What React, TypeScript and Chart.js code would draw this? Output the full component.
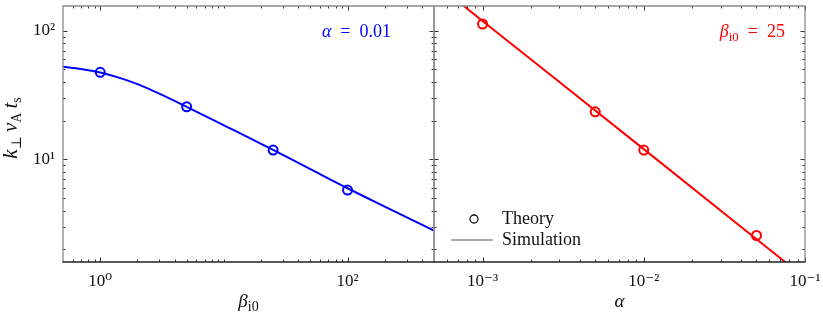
import React, { useEffect, useRef } from "react";
import { Chart, registerables } from "chart.js";
Chart.register(...registerables);

const FONT = '"Liberation Serif", "DejaVu Serif", serif';

// ---- Left panel: alpha = 0.01, versus beta_i0
const betaTheory = [1, 5, 25, 100];
const kTheoryBeta = [47.5, 25.6, 11.8, 5.77];
const betaSim = [0.5, 0.7, 1, 1.5, 2, 3, 5, 10, 25, 50, 100, 200, 500];
const kSimBeta = [52.5, 50.4, 47.3, 42.4, 38.4, 32.4, 25.6, 18.4, 11.85, 8.4, 5.96, 4.29, 2.79];

// ---- Right panel: beta_i0 = 25, versus alpha
const alphaTheory = [0.001, 0.005, 0.01, 0.05];
const kTheoryAlpha = [112.7, 23.4, 11.8, 2.56];
const alphaSim = [0.0004, 0.001, 0.01, 0.1];
const kSimAlpha = [297, 119, 12.0, 1.2];

// ---- Axes ranges and ticks
const yRange = [1.593, 155.5];
const betaRange = [0.5, 500];
const alphaRange = [0.0005, 0.1];
const yMajorTicks = [10, 100];
const yMinorTicks = [2, 3, 4, 5, 6, 7, 8, 9, 20, 30, 40, 50, 60, 70, 80, 90];
const betaMajorTicks = [1, 100];
const betaMinorTicks = [0.6, 0.7, 0.8, 0.9, 2, 3, 4, 5, 6, 7, 8, 9, 10, 20, 30, 40, 50, 60, 70, 80, 90, 200, 300, 400];
const alphaMajorTicks = [0.001, 0.01, 0.1];
const alphaMinorTicks = [0.0006, 0.0007, 0.0008, 0.0009, 0.002, 0.003, 0.004, 0.005, 0.006, 0.007, 0.008, 0.009, 0.02, 0.03, 0.04, 0.05, 0.06, 0.07, 0.08, 0.09];

const SUP: Record<string, string> = { "-": "\u207B", "0": "\u2070", "1": "\u00B9", "2": "\u00B2", "3": "\u00B3" };
const fmtPow = (v: number) => {
  const e = String(Math.round(Math.log10(v)));
  return "10" + e.split("").map((c) => SUP[c] || c).join("");
};

type Part = { t: string; italic?: boolean; sub?: boolean };
function drawRich(
  ctx: CanvasRenderingContext2D,
  parts: Part[],
  x: number,
  y: number,
  align: "left" | "center" | "right",
  color: string,
  main = 18,
  subSize = 13,
  subDy = 4
) {
  const fontOf = (p: Part) => `${p.italic ? "italic " : ""}${p.sub ? subSize : main}px ${FONT}`;
  ctx.save();
  ctx.textBaseline = "alphabetic";
  ctx.textAlign = "left";
  ctx.fillStyle = color;
  let w = 0;
  const widths = parts.map((p) => {
    ctx.font = fontOf(p);
    const m = ctx.measureText(p.t).width;
    w += m;
    return m;
  });
  let cx = align === "left" ? x : align === "center" ? x - w / 2 : x - w;
  parts.forEach((p, i) => {
    ctx.font = fontOf(p);
    ctx.fillText(p.t, cx, p.sub ? y + subDy : y);
    cx += widths[i];
  });
  ctx.restore();
}

type Extra = {
  xMajor: number[];
  xMinor: number[];
  draw: (ctx: CanvasRenderingContext2D, chart: any) => void;
};

function framePlugin(extra: Extra) {
  return {
    id: "frameTicks",
    afterDraw(chart: any) {
      const ctx: CanvasRenderingContext2D = chart.ctx;
      const { left, right, top, bottom } = chart.chartArea;
      const xs = chart.scales.x;
      const ys = chart.scales.y;
      ctx.save();
      ctx.strokeStyle = "#303030";
      ctx.lineWidth = 1;
      const tick = (len: number, v: number, axis: "x" | "y") => {
        ctx.beginPath();
        if (axis === "x") {
          const px = Math.round(xs.getPixelForValue(v)) + 0.5;
          ctx.moveTo(px, bottom); ctx.lineTo(px, bottom - len);
          ctx.moveTo(px, top); ctx.lineTo(px, top + len);
        } else {
          const py = Math.round(ys.getPixelForValue(v)) + 0.5;
          ctx.moveTo(left, py); ctx.lineTo(left + len, py);
          ctx.moveTo(right, py); ctx.lineTo(right - len, py);
        }
        ctx.stroke();
      };
      extra.xMajor.forEach((v) => tick(4.5, v, "x"));
      extra.xMinor.forEach((v) => tick(2.5, v, "x"));
      yMajorTicks.forEach((v) => tick(4.5, v, "y"));
      yMinorTicks.forEach((v) => tick(2.5, v, "y"));
      // frame
      ctx.lineWidth = 1.3;
      ctx.strokeStyle = "#8a8a8a";
      ctx.beginPath();
      ctx.moveTo(left, bottom); ctx.lineTo(left, top); ctx.lineTo(right, top); ctx.lineTo(right, bottom);
      ctx.stroke();
      ctx.strokeStyle = "#202020";
      ctx.beginPath();
      ctx.moveTo(left - 0.6, bottom); ctx.lineTo(right + 0.6, bottom);
      ctx.stroke();
      ctx.restore();
      extra.draw(ctx, chart);
    },
  };
}

function baseOptions(xRange: number[], xMajor: number[], yAxisWidth: number | null, padding: any) {
  const tickFont = { family: FONT, size: 17 };
  return {
    animation: false,
    responsive: false,
    layout: { padding, autoPadding: false },
    plugins: { legend: { display: false }, tooltip: { enabled: false } },
    scales: {
      x: {
        type: "logarithmic",
        min: xRange[0],
        max: xRange[1],
        grid: { display: false, drawTicks: false },
        border: { display: false },
        ticks: { font: tickFont, color: "#111", padding: 9, maxRotation: 0, autoSkip: false, callback: (v: any) => fmtPow(Number(v)) },
        afterBuildTicks: (s: any) => { s.ticks = xMajor.map((v) => ({ value: v })); },
        afterFit: (s: any) => { s.height = 56; s.paddingLeft = 0; s.paddingRight = 0; },
      },
      y: {
        type: "logarithmic",
        display: yAxisWidth !== null,
        min: yRange[0],
        max: yRange[1],
        grid: { display: false, drawTicks: false },
        border: { display: false },
        ticks: { font: tickFont, color: "#111", padding: 8, autoSkip: false, callback: (v: any) => fmtPow(Number(v)) },
        afterBuildTicks: (s: any) => { s.ticks = yMajorTicks.map((v) => ({ value: v })); },
        afterFit: (s: any) => { if (yAxisWidth !== null) s.width = yAxisWidth; s.paddingTop = 0; s.paddingBottom = 0; },
      },
    },
  } as any;
}

function datasets(xs: number[], ys: number[], xt: number[], yt: number[], color: string) {
  return [
    {
      type: "scatter",
      data: xt.map((x, i) => ({ x, y: yt[i] })),
      borderColor: color,
      backgroundColor: "rgba(0,0,0,0)",
      pointRadius: 4.5,
      pointBorderWidth: 2,
      showLine: false,
      order: 0,
    },
    {
      type: "line",
      data: xs.map((x, i) => ({ x, y: ys[i] })),
      borderColor: color,
      borderWidth: 2,
      pointRadius: 0,
      cubicInterpolationMode: "monotone",
      fill: false,
      order: 1,
    },
  ];
}

export default function App() {
  const leftRef = useRef<HTMLCanvasElement>(null);
  const rightRef = useRef<HTMLCanvasElement>(null);

  useEffect(() => {
    const left = new Chart(leftRef.current as HTMLCanvasElement, {
      type: "scatter",
      data: { datasets: datasets(betaSim, kSimBeta, betaTheory, kTheoryBeta, "#0000ff") as any },
      options: baseOptions(betaRange, betaMajorTicks, 63, { top: 6, right: 2, left: 0, bottom: 0 }),
      plugins: [
        framePlugin({
          xMajor: betaMajorTicks,
          xMinor: betaMinorTicks,
          draw: (ctx, chart) => {
            const { left: l, right: r } = chart.chartArea;
            drawRich(ctx, [{ t: "\u03B1", italic: true }, { t: "\u2002=\u20020.01" }], 391, 37, "right", "#0000ff");
            drawRich(ctx, [{ t: "\u03B2", italic: true }, { t: "i0", sub: true }], (l + r) / 2, 307, "center", "#111", 19, 14, 4);
            ctx.save();
            ctx.translate(17, 128);
            ctx.rotate(-Math.PI / 2);
            drawRich(
              ctx,
              [
                { t: "k", italic: true }, { t: "\u22A5", sub: true }, { t: "\u2009" },
                { t: "v", italic: true }, { t: "A", sub: true }, { t: "\u2009" },
                { t: "t", italic: true }, { t: "s", sub: true },
              ],
              0, 0, "center", "#111", 21, 14, 4
            );
            ctx.restore();
          },
        }),
      ],
    });
    const right = new Chart(rightRef.current as HTMLCanvasElement, {
      type: "scatter",
      data: { datasets: datasets(alphaSim, kSimAlpha, alphaTheory, kTheoryAlpha, "#ff0000") as any },
      options: baseOptions(alphaRange, alphaMajorTicks, null, { top: 6, right: 18, left: 1, bottom: 0 }),
      plugins: [
        framePlugin({
          xMajor: alphaMajorTicks,
          xMinor: alphaMinorTicks,
          draw: (ctx, chart) => {
            const { left: l, right: r } = chart.chartArea;
            const off = 433;
            drawRich(ctx, [{ t: "\u03B2", italic: true }, { t: "i0", sub: true }, { t: "\u2002=\u200225" }], 785 - off, 37, "right", "#ff0000");
            drawRich(ctx, [{ t: "\u03B1", italic: true }], (l + r) / 2, 307, "center", "#111", 19);
            // legend
            ctx.save();
            ctx.strokeStyle = "#111";
            ctx.lineWidth = 1.3;
            ctx.beginPath();
            ctx.arc(474 - off, 219, 4, 0, Math.PI * 2);
            ctx.stroke();
            ctx.strokeStyle = "#555";
            ctx.lineWidth = 1.2;
            ctx.beginPath();
            ctx.moveTo(451 - off, 240);
            ctx.lineTo(493 - off, 240);
            ctx.stroke();
            ctx.restore();
            drawRich(ctx, [{ t: "Theory" }], 502 - off, 224, "left", "#111");
            drawRich(ctx, [{ t: "Simulation" }], 502 - off, 245, "left", "#111");
          },
        }),
      ],
    });
    return () => {
      left.destroy();
      right.destroy();
    };
  }, []);

  return (
    <div style={{ position: "absolute", left: 0, top: 0, width: 823, height: 318, background: "#fff" }}>
      <canvas ref={leftRef} width={436} height={318} style={{ position: "absolute", left: 0, top: 0 }} />
      <canvas ref={rightRef} width={390} height={318} style={{ position: "absolute", left: 433, top: 0 }} />
    </div>
  );
}
